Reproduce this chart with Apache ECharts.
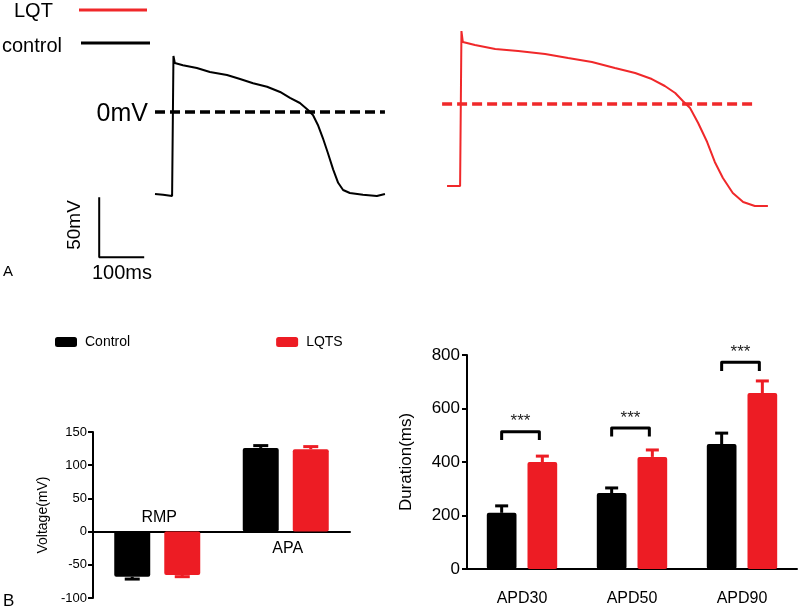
<!DOCTYPE html>
<html><head><meta charset="utf-8">
<script src="https://cdn.jsdelivr.net/npm/echarts@6/dist/echarts.min.js"></script>
<style>html,body{margin:0;padding:0;background:#fff}#c{width:800px;height:609px}</style>
</head><body><div id="c"></div>
<script>
// ---------- Panel A: action potential traces [time (ms), voltage (mV)] ----------
const controlTrace = [
  [-40,-68.3],[-22,-69],[-2,-70],[0,-70],[1,46.7],[4,40.8],[22,39],[53,36.7],[82,33.3],
  [120,30.8],[149,27.5],[178,24],[209,21],[238,16.7],[260,11.7],[282,7.5],[300,1.7],
  [311,-2.5],[322,-10.8],[333,-21.7],[344,-34],[356,-48],[367,-59],[378,-65],[393,-67.5],
  [422,-69],[453,-70],[471,-68.3]
];
const lqtTrace = [
  [-31,-68.3],[-2,-68.3],[0,-68.3],[1,60.8],[4,51.7],[31,49.2],[76,45.8],[127,44.2],
  [187,41.7],[238,38.3],[291,35],[342,30],[387,25.8],[424,20.8],[453,15],[476,9.2],
  [493,2.5],[509,-3.3],[527,-15.8],[547,-31.7],[564,-48.3],[582,-61.7],[604,-74.2],
  [627,-81.7],[653,-85],[682,-85]
];
const controlZeroLine = [[-40,0],[471,0]];
const lqtZeroLine = [[-42,0],[647,0]];
const scaleBar = [[-164,-71],[-164,-121],[-64,-121]]; // 50 mV x 100 ms

// ---------- Panel B left: voltages ----------
const voltCategories = ['RMP','APA'];
const voltControl = [-68, 126];
const voltControlErr = [3.5, 3.5];
const voltLQTS = [-65.4, 124];
const voltLQTSErr = [2.5, 4];

// ---------- Panel B right: durations ----------
const apdCategories = ['APD30','APD50','APD90'];
const apdControl = [210, 284, 467];
const apdControlErr = [26, 19, 41];
const apdLQTS = [400, 419, 658];
const apdLQTSErr = [22, 26, 45];
const sigTop = [513, 527, 773];
const sigLeg = [482, 495, 740];
const sigText = ['***','***','***'];

const BLACK = '#000000';
const RED = '#ed1c24';
const TRACE_RED = '#f0282a';
const FONT = '"Liberation Sans", Arial, sans-serif';

function errRender(side, barFrac, gapFrac, capW) {
  return function (params, api) {
    const idx = api.value(0), v = api.value(1), e = api.value(2);
    const band = api.size([1, 0])[0];
    const w = band * barFrac;
    const off = side * w * (1 + gapFrac) / 2;
    const p0 = api.coord([idx, v]);
    const p1 = api.coord([idx, v + (v < 0 ? -e : e)]);
    const x = p0[0] + off;
    const color = api.visual('color');
    return { type: 'group', children: [
      { type: 'line', shape: { x1: x, y1: p0[1], x2: x, y2: p1[1] }, style: { stroke: color, lineWidth: 3 } },
      { type: 'line', shape: { x1: x - capW / 2, y1: p1[1], x2: x + capW / 2, y2: p1[1] }, style: { stroke: color, lineWidth: 3 } }
    ]};
  };
}

function bracketRender(barFrac, gapFrac) {
  return function (params, api) {
    const idx = api.value(0), top = api.value(1), leg = api.value(2);
    const band = api.size([1, 0])[0];
    const w = band * barFrac;
    const off = w * (1 + gapFrac) / 2;
    const pt = api.coord([idx, top]);
    const pl = api.coord([idx, leg]);
    const x1 = pt[0] - off, x2 = pt[0] + off - 3;
    return { type: 'group', children: [
      { type: 'polyline', shape: { points: [[x1, pl[1]], [x1, pt[1]], [x2, pt[1]], [x2, pl[1]]] },
        style: { stroke: BLACK, lineWidth: 3, fill: null, lineJoin: 'round' } },
      { type: 'text', style: { x: (x1 + x2) / 2, y: pt[1] - 10, text: sigText[params.dataIndex],
        fill: '#222', fontSize: 17, fontFamily: FONT, align: 'center', verticalAlign: 'middle' } }
    ]};
  };
}

// category name drawn on the side of the zero line opposite to the bars
function catLabelRender(params, api) {
  const idx = api.value(0), v = api.value(1);
  const p = api.coord([idx, 0]);
  return { type: 'text', style: { x: p[0] + 2, y: p[1] + (v < 0 ? -14 : 17), text: voltCategories[idx],
    fill: BLACK, fontSize: 16, fontFamily: FONT, align: 'center', verticalAlign: 'middle' } };
}

const chart = echarts.init(document.getElementById('c'), null, { renderer: 'canvas' });

const hiddenAxis = { show: false, splitLine: { show: false } };

const option = {
  animation: false,
  backgroundColor: '#ffffff',
  textStyle: { fontFamily: FONT },
  grid: [
    { left: 83, top: 16, width: 315, height: 252, outerBoundsMode: 'none' },
    { left: 438.5, top: 8, width: 346.5, height: 216, outerBoundsMode: 'none' },
    { left: 93, top: 432, width: 257, height: 166, outerBoundsMode: 'none' },
    { left: 467, top: 355, width: 330, height: 214, outerBoundsMode: 'none' }
  ],
  xAxis: [
    Object.assign({ type: 'value', gridIndex: 0, min: -200, max: 500 }, hiddenAxis),
    Object.assign({ type: 'value', gridIndex: 1, min: -50, max: 720 }, hiddenAxis),
    { type: 'category', gridIndex: 2, data: voltCategories,
      axisLine: { onZero: true, lineStyle: { color: BLACK, width: 2 } },
      axisTick: { show: false },
      axisLabel: { show: false } },
    { type: 'category', gridIndex: 3, data: apdCategories,
      axisLine: { lineStyle: { color: BLACK, width: 2 } },
      axisTick: { alignWithLabel: true, length: 7, lineStyle: { color: BLACK, width: 2 } },
      axisLabel: { margin: 22, fontSize: 16, color: BLACK } }
  ],
  yAxis: [
    Object.assign({ type: 'value', gridIndex: 0, min: -130, max: 80 }, hiddenAxis),
    Object.assign({ type: 'value', gridIndex: 1, min: -100, max: 80 }, hiddenAxis),
    { type: 'value', gridIndex: 2, min: -100, max: 150, interval: 50,
      name: 'Voltage(mV)', nameLocation: 'middle', nameGap: 43, nameRotate: 90,
      nameTextStyle: { fontSize: 14, color: BLACK },
      axisLine: { show: true, lineStyle: { color: BLACK, width: 2 } },
      axisTick: { show: true, length: 5, lineStyle: { color: BLACK, width: 2 } },
      axisLabel: { margin: 6, fontSize: 13, color: BLACK },
      splitLine: { show: false } },
    { type: 'value', gridIndex: 3, min: 0, max: 800, interval: 200,
      name: 'Duration(ms)', nameLocation: 'middle', nameGap: 52, nameRotate: 90,
      nameTextStyle: { fontSize: 17, color: BLACK },
      axisLine: { show: true, lineStyle: { color: BLACK, width: 2 } },
      axisTick: { show: true, length: 5, lineStyle: { color: BLACK, width: 2 } },
      axisLabel: { margin: 7, fontSize: 17, color: BLACK },
      splitLine: { show: false } }
  ],
  legend: [{
    data: ['Control', 'LQTS'], left: 50, top: 330, itemWidth: 22, itemHeight: 10, itemGap: 146,
    icon: 'roundRect', selectedMode: false,
    textStyle: { fontSize: 14, color: BLACK, padding: [0, 0, 0, 3] }
  }],
  series: [
    { type: 'line', name: 'control', xAxisIndex: 0, yAxisIndex: 0, data: controlTrace,
      showSymbol: false, lineStyle: { color: BLACK, width: 2 }, itemStyle: { color: BLACK } },
    { type: 'line', xAxisIndex: 0, yAxisIndex: 0, data: controlZeroLine, showSymbol: false,
      lineStyle: { color: BLACK, width: 3.5, type: [10, 5] } },
    { type: 'line', xAxisIndex: 0, yAxisIndex: 0, data: scaleBar, showSymbol: false,
      lineStyle: { color: BLACK, width: 2 } },
    { type: 'line', name: 'LQT', xAxisIndex: 1, yAxisIndex: 1, data: lqtTrace,
      showSymbol: false, lineStyle: { color: TRACE_RED, width: 2 }, itemStyle: { color: TRACE_RED } },
    { type: 'line', xAxisIndex: 1, yAxisIndex: 1, data: lqtZeroLine, showSymbol: false,
      lineStyle: { color: TRACE_RED, width: 3.5, type: [10, 5] } },

    { type: 'bar', name: 'Control', xAxisIndex: 2, yAxisIndex: 2, data: voltControl,
      barWidth: '28%', barGap: '39%', itemStyle: { color: BLACK, borderRadius: 2 } },
    { type: 'bar', name: 'LQTS', xAxisIndex: 2, yAxisIndex: 2, data: voltLQTS,
      barWidth: '28%', barGap: '39%', itemStyle: { color: RED, borderRadius: 2 } },
    { type: 'custom', xAxisIndex: 2, yAxisIndex: 2, itemStyle: { color: BLACK },
      renderItem: errRender(-1, 0.28, 0.39, 15),
      data: voltCategories.map((c, i) => [i, voltControl[i], voltControlErr[i]]) },
    { type: 'custom', xAxisIndex: 2, yAxisIndex: 2, itemStyle: { color: RED },
      renderItem: errRender(1, 0.28, 0.39, 15),
      data: voltCategories.map((c, i) => [i, voltLQTS[i], voltLQTSErr[i]]) },
    { type: 'custom', xAxisIndex: 2, yAxisIndex: 2, renderItem: catLabelRender,
      data: voltCategories.map((c, i) => [i, voltControl[i]]) },

    { type: 'bar', name: 'Control', xAxisIndex: 3, yAxisIndex: 3, data: apdControl,
      barWidth: '27%', barGap: '37%', itemStyle: { color: BLACK, borderRadius: 2 } },
    { type: 'bar', name: 'LQTS', xAxisIndex: 3, yAxisIndex: 3, data: apdLQTS,
      barWidth: '27%', barGap: '37%', itemStyle: { color: RED, borderRadius: 2 } },
    { type: 'custom', xAxisIndex: 3, yAxisIndex: 3, itemStyle: { color: BLACK },
      renderItem: errRender(-1, 0.27, 0.37, 13),
      data: apdCategories.map((c, i) => [i, apdControl[i], apdControlErr[i]]) },
    { type: 'custom', xAxisIndex: 3, yAxisIndex: 3, itemStyle: { color: RED },
      renderItem: errRender(1, 0.27, 0.37, 13),
      data: apdCategories.map((c, i) => [i, apdLQTS[i], apdLQTSErr[i]]) },
    { type: 'custom', xAxisIndex: 3, yAxisIndex: 3,
      renderItem: bracketRender(0.27, 0.37),
      data: apdCategories.map((c, i) => [i, sigTop[i], sigLeg[i]]) }
  ],
  graphic: [
    { type: 'text', style: { x: 14, y: 11, text: 'LQT', fontSize: 20, fontFamily: FONT, fill: BLACK, verticalAlign: 'middle' } },
    { type: 'line', shape: { x1: 79, y1: 10, x2: 147, y2: 10 }, style: { stroke: TRACE_RED, lineWidth: 3 } },
    { type: 'text', style: { x: 2, y: 46, text: 'control', fontSize: 20, fontFamily: FONT, fill: BLACK, verticalAlign: 'middle' } },
    { type: 'line', shape: { x1: 81, y1: 43, x2: 150, y2: 43 }, style: { stroke: BLACK, lineWidth: 3 } },
    { type: 'text', style: { x: 148, y: 114, text: '0mV', fontSize: 25, fontFamily: FONT, fill: BLACK, align: 'right', verticalAlign: 'middle' } },
    { type: 'text', x: 75, y: 225, rotation: Math.PI / 2, style: { x: 0, y: 0, text: '50mV', fontSize: 19, fontFamily: FONT, fill: BLACK, align: 'center', verticalAlign: 'middle' } },
    { type: 'text', style: { x: 122, y: 273, text: '100ms', fontSize: 20, fontFamily: FONT, fill: BLACK, align: 'center', verticalAlign: 'middle' } },
    { type: 'text', style: { x: 3, y: 272, text: 'A', fontSize: 15, fontFamily: FONT, fill: BLACK, verticalAlign: 'middle' } },
    { type: 'text', style: { x: 3, y: 601, text: 'B', fontSize: 17, fontFamily: FONT, fill: BLACK, verticalAlign: 'middle' } }
  ]
};
chart.setOption(option);
</script>
</body></html>
